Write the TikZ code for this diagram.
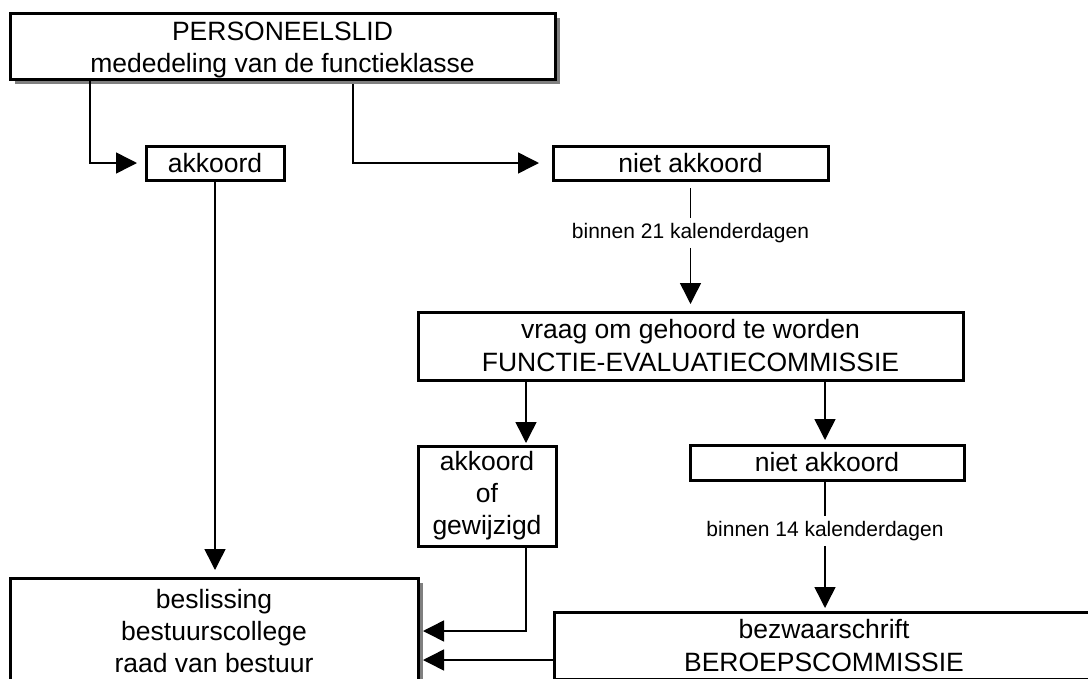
\documentclass[tikz,border=0pt]{standalone}
\usepackage{fontspec}
\setmainfont{Liberation Sans}
\usetikzlibrary{arrows.meta,shadows,calc}
\begin{document}
\begin{tikzpicture}[x=1pt,y=-1pt,
  box/.style={draw=black, line width=3pt, fill=white, inner sep=0pt, outer sep=0pt, align=center, font=\fontsize{26.5}{33}\selectfont},
  tight/.style={font=\fontsize{26.5}{32}\selectfont},
  shbox/.style={box, general shadow={fill=gray, shadow xshift=5pt, shadow yshift=-5pt}},
  lab/.style={font=\fontsize{21}{24}\selectfont, inner xsep=2pt, inner ysep=5pt, outer sep=0pt},
  conn/.style={line width=1.5pt},
  arr/.style={conn, -{Triangle[length=21pt,width=21pt]}},
]
\useasboundingbox (0,0) rectangle (1088,678);
\clip (0,0) rectangle (1088,678);
\fill[white] (0,0) rectangle (1088,678);

\node[shbox, tight, minimum width=545pt, minimum height=66pt] (top) at (282.5,46) {\rule{0pt}{26pt}PERSONEELSLID\\mededeling van de functieklasse};
\node[box, minimum width=138pt, minimum height=34pt] (akk1) at (215,163) {akkoord};
\node[box, minimum width=275pt, minimum height=34pt] (niet1) at (690.5,163) {niet akkoord};
\node[box, minimum width=545pt, minimum height=68pt] (vraag) at (690.5,346) {vraag om gehoord te worden\\FUNCTIE-EVALUATIECOMMISSIE};
\node[box, tight, minimum width=138pt, minimum height=100pt] (akk2) at (487,496) {akkoord\\of\\gewijzigd};
\node[box, minimum width=274pt, minimum height=35pt] (niet2) at (827,462.5) {niet akkoord};
\node[box, minimum width=540pt, minimum height=67pt] (bezw) at (824,645.5) {bezwaarschrift\\BEROEPSCOMMISSIE};
\node[shbox, tight, minimum width=408pt, minimum height=106pt] (besl) at (214,631) {beslissing\\bestuurscollege\\raad van bestuur};

\node[lab] (lab1) at (690.5,233) {binnen 21 kalenderdagen};
\node[lab] (lab2) at (825,531) {binnen 14 kalenderdagen};

\coordinate (xa) at (526,0);
\coordinate (xb) at (825,0);
\coordinate (yl) at (0,660);

\draw[arr, shorten >=9pt] ($(top.south west)+(80,0)$) |- (akk1.west);
\draw[arr, shorten <=5pt, shorten >=14pt] ($(top.south west)+(343,0)$) |- (niet1.west);
\draw[conn, shorten <=8pt] (niet1.south) -- (lab1.north);
\draw[arr, shorten >=8pt] (lab1.south) -- (vraag.north);
\draw[arr, shorten >=3pt] (vraag.south -| xa) -- (akk2.north -| xa);
\draw[arr, shorten >=5pt] (vraag.south -| xb) -- (niet2.north -| xb);
\draw[conn] (niet2.south -| xb) -- (lab2.north);
\draw[arr, shorten >=4pt] (lab2.south) -- (bezw.north -| xb);
\draw[arr, shorten >=5pt] (akk2.south -| xa) |- (besl.east);
\draw[arr, shorten >=5pt] (bezw.west |- yl) -- (besl.east |- yl);
\draw[arr, shorten >=8pt] (akk1.south) -- (besl.north -| akk1.south);
\end{tikzpicture}
\end{document}
